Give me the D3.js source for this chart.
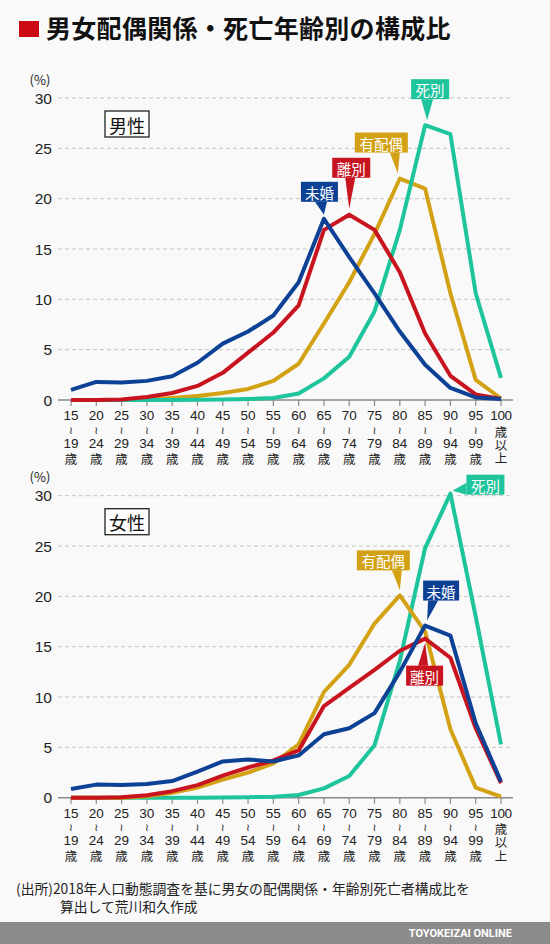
<!DOCTYPE html>
<html>
<head>
<meta charset="utf-8">
<script src="https://cdn.jsdelivr.net/npm/d3@7"></script>
<style>
  html, body { margin: 0; padding: 0; background: #f9f9f9; }
  svg { display: block; font-family: "Noto Sans CJK JP", "Noto Sans", sans-serif; }
  .num { font-family: "Liberation Sans", Arial, sans-serif; }
</style>
</head>
<body>
<svg id="chart" width="550" height="944"></svg>
<script>
// age groups (start of each 5-year band)
const ages = ["15","20","25","30","35","40","45","50","55","60","65","70","75","80","85","90","95","100"];
const yTicks = [0, 5, 10, 15, 20, 25, 30];

// 男性 (%)
const maleMikon    = [1.0,1.8,1.75,1.9,2.35,3.7,5.6,6.8,8.4,11.7,18.0,14.2,10.6,6.8,3.5,1.2,0.25,0.1];
const maleRikon    = [0,0,0.05,0.3,0.7,1.4,2.7,4.7,6.7,9.4,16.9,18.4,16.9,12.7,6.6,2.4,0.55,0.1];
const maleHaiguu   = [0,0,0,0.05,0.2,0.4,0.7,1.1,1.9,3.6,7.6,11.7,16.5,22.0,21.0,10.6,2.0,0.15];
const maleShibetsu = [0,0,0,0,0,0.02,0.05,0.1,0.2,0.65,2.15,4.3,8.8,16.9,27.3,26.4,10.6,2.2];

// 女性 (%)
const femaleMikon    = [0.86,1.3,1.25,1.35,1.65,2.6,3.6,3.8,3.6,4.2,6.3,6.9,8.4,12.5,17.1,16.1,7.4,1.6];
const femaleRikon    = [0,0,0.05,0.25,0.65,1.25,2.2,3.0,3.7,4.7,9.1,10.9,12.7,14.6,15.8,13.9,6.9,1.45];
const femaleHaiguu   = [0,0,0,0.15,0.5,1.0,1.8,2.5,3.4,5.3,10.5,13.2,17.3,20.1,16.5,6.8,1.0,0.1];
const femaleShibetsu = [0,0,0,0,0,0,0.02,0.05,0.1,0.27,0.93,2.15,5.2,13.6,24.8,30.2,18.0,5.3];

const colors = { mikon: "#0c4196", rikon: "#c8141f", haiguu: "#d3a114", shibetsu: "#1ec49b" };
const names  = { mikon: "未婚", rikon: "離別", haiguu: "有配偶", shibetsu: "死別" };

const svg = d3.select("#chart");

// title
svg.append("rect").attr("x", 19).attr("y", 21).attr("width", 20).attr("height", 16).attr("fill", "#cc0a14");
svg.append("text").attr("x", 46).attr("y", 38)
  .attr("font-size", 25).attr("font-weight", "bold").attr("fill", "#111")
  .attr("letter-spacing", 0.3)
  .text("男女配偶関係・死亡年齢別の構成比");

function drawPanel(opts) {
  const x = d3.scalePoint().domain(ages).range([71, 501]);
  const y = d3.scaleLinear().domain([0, 30]).range([opts.y0, opts.y0 - 302]);
  const g = svg.append("g");

  // grid
  g.selectAll(".grid").data(yTicks.filter(d => d > 0)).enter().append("line")
    .attr("x1", 58).attr("x2", 512)
    .attr("y1", d => y(d)).attr("y2", d => y(d))
    .attr("stroke", "#c4c4c4").attr("stroke-width", 1).attr("stroke-dasharray", "4,3");

  // y tick labels
  g.selectAll(".ylab").data(yTicks).enter().append("text")
    .attr("class", "num")
    .attr("x", 52).attr("y", d => y(d))
    .attr("text-anchor", "end").attr("dominant-baseline", "central")
    .attr("font-size", 15.5).attr("fill", "#222")
    .text(d => d);
  g.append("text").attr("x", 40).attr("y", y(30) - 19)
    .attr("text-anchor", "middle").attr("dominant-baseline", "central")
    .attr("font-size", 13).attr("fill", "#222").text("(%)");

  // x axis
  g.append("line").attr("x1", 58).attr("x2", 513)
    .attr("y1", y(0)).attr("y2", y(0))
    .attr("stroke", "#8a8a8a").attr("stroke-width", 1.5);
  g.selectAll(".tick").data(ages).enter().append("line")
    .attr("x1", d => x(d)).attr("x2", d => x(d))
    .attr("y1", y(0)).attr("y2", y(0) + 6)
    .attr("stroke", "#8a8a8a").attr("stroke-width", 1.2);

  // vertical tick labels: 15 / ≀ / 19 / 歳  (100 / 歳 / 以 / 上)
  const col = g.selectAll(".xlab").data(ages).enter().append("g")
    .attr("transform", d => `translate(${x(d)},${y(0)})`);
  col.each(function(d) {
    const el = d3.select(this);
    const add = (t, yy, size, cls) => el.append("text")
      .attr("class", cls).attr("x", 0).attr("y", yy)
      .attr("text-anchor", "middle").attr("dominant-baseline", "central")
      .attr("font-size", size).attr("fill", "#222").text(t);
    if (d === "100") {
      add("100", 15.5, 13.5, "num").attr("letter-spacing", -0.3);
      add("歳", 31, 12.5, "");
      add("以", 44, 12.5, "");
      add("上", 57.5, 12.5, "");
    } else {
      add(d, 15.5, 13.5, "num");
      add("≀", 29.5, 10.5, "").attr("font-family", "DejaVu Sans");
      add(String(+d + 4), 43, 13.5, "num");
      add("歳", 58, 12.5, "");
    }
  });

  // panel label
  g.append("rect").attr("x", 105).attr("y", y(30) + 13).attr("width", 44).attr("height", 26)
    .attr("fill", "#fdfdfd").attr("stroke", "#222").attr("stroke-width", 1.3);
  g.append("text").attr("x", 127).attr("y", y(30) + 26.5)
    .attr("text-anchor", "middle").attr("dominant-baseline", "central")
    .attr("font-size", 18).attr("fill", "#111").text(opts.label);

  // lines
  const line = d3.line().x((d, i) => x(ages[i])).y(d => y(d));
  opts.order.forEach(k => {
    g.append("path").datum(opts.series[k])
      .attr("d", line).attr("fill", "none")
      .attr("stroke", colors[k]).attr("stroke-width", 4)
      .attr("stroke-linejoin", "round");
  });

  // callouts
  opts.callouts.forEach(c => {
    const px = x(ages[c.idx]), py = y(opts.series[c.key][c.idx]);
    const tip = [px + c.tip[0], py + c.tip[1]];
    const bx = px + c.box[0], by = py + c.box[1];
    g.append("path")
      .attr("d", `M${px + c.base[0][0]},${py + c.base[0][1]}L${px + c.base[1][0]},${py + c.base[1][1]}L${tip[0]},${tip[1]}Z`)
      .attr("fill", colors[c.key]);
    g.append("rect").attr("x", bx).attr("y", by).attr("width", c.w).attr("height", 20)
      .attr("fill", colors[c.key]);
    g.append("text").attr("x", bx + c.w / 2).attr("y", by + 10.5)
      .attr("text-anchor", "middle").attr("dominant-baseline", "central")
      .attr("font-size", 14.5).attr("fill", "#fff").text(names[c.key]);
  });
}

drawPanel({
  y0: 400,
  label: "男性",
  series: { mikon: maleMikon, rikon: maleRikon, haiguu: maleHaiguu, shibetsu: maleShibetsu },
  order: ["haiguu", "shibetsu", "rikon", "mikon"],
  callouts: [
    { key: "mikon", idx: 10, box: [-23, -37], w: 37, base: [[-9, -17], [3, -17]], tip: [0, -4] },
    { key: "rikon", idx: 11, box: [-17, -57], w: 38, base: [[-4, -37], [6, -37]], tip: [0, -6] },
    { key: "haiguu", idx: 13, box: [-45, -46], w: 53, base: [[-10, -26], [0, -26]], tip: [-2, -5] },
    { key: "shibetsu", idx: 14, box: [-14, -46], w: 38, base: [[-4, -26], [8, -26]], tip: [2, -5] }
  ]
});

drawPanel({
  y0: 797.7,
  label: "女性",
  series: { mikon: femaleMikon, rikon: femaleRikon, haiguu: femaleHaiguu, shibetsu: femaleShibetsu },
  order: ["shibetsu", "haiguu", "rikon", "mikon"],
  callouts: [
    { key: "shibetsu", idx: 15, box: [16, -19], w: 38, base: [[16, -11], [16, 1]], tip: [2, -3] },
    { key: "haiguu", idx: 13, box: [-43, -45], w: 53, base: [[-8, -25], [2, -25]], tip: [0, -5] },
    { key: "mikon", idx: 14, box: [-2, -45], w: 36, base: [[3, -25], [13, -25]], tip: [2, -5] },
    { key: "rikon", idx: 14, box: [-19, 27], w: 37, base: [[-7, 27], [3, 27]], tip: [0, 4] }
  ]
});

// source
svg.append("text").attr("x", 16).attr("y", 888).attr("dominant-baseline", "central")
  .attr("font-size", 13.8).attr("fill", "#222")
  .text("(出所)2018年人口動態調査を基に男女の配偶関係・年齢別死亡者構成比を");
svg.append("text").attr("x", 60).attr("y", 906).attr("dominant-baseline", "central")
  .attr("font-size", 13.8).attr("fill", "#222")
  .text("算出して荒川和久作成");

// footer
svg.append("rect").attr("x", 0).attr("y", 922).attr("width", 550).attr("height", 22).attr("fill", "#8c8c8c");
svg.append("text").attr("x", 512).attr("y", 933).attr("text-anchor", "end").attr("dominant-baseline", "central")
  .attr("font-family", "Roboto, 'Liberation Sans', sans-serif")
  .attr("font-size", 11).attr("font-weight", "bold").attr("fill", "#fff")
  .text("TOYOKEIZAI ONLINE");
</script>
</body>
</html>
